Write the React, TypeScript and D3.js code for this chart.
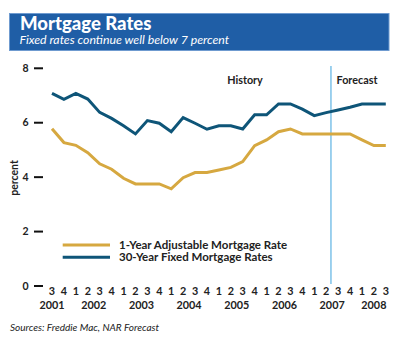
import React from "react";
import * as d3 from "d3";

const periods = [
  "2001-3", "2001-4",
  "2002-1", "2002-2", "2002-3", "2002-4",
  "2003-1", "2003-2", "2003-3", "2003-4",
  "2004-1", "2004-2", "2004-3", "2004-4",
  "2005-1", "2005-2", "2005-3", "2005-4",
  "2006-1", "2006-2", "2006-3", "2006-4",
  "2007-1", "2007-2", "2007-3", "2007-4",
  "2008-1", "2008-2", "2008-3",
];

const arm1Year = [
  5.78, 5.27, 5.17, 4.9, 4.49, 4.29, 3.96, 3.75, 3.75, 3.75,
  3.57, 3.98, 4.17, 4.17, 4.26, 4.36, 4.57, 5.16, 5.37, 5.67,
  5.77, 5.59, 5.59, 5.59, 5.59, 5.59, 5.37, 5.16, 5.16,
];

const fixed30Year = [
  7.08, 6.86, 7.08, 6.87, 6.38, 6.16, 5.89, 5.59, 6.08, 5.98,
  5.67, 6.19, 5.98, 5.76, 5.89, 5.89, 5.77, 6.29, 6.29, 6.69,
  6.69, 6.5, 6.26, 6.37, 6.47, 6.57, 6.69, 6.69, 6.69,
];

const yTicks = [0, 2, 4, 6, 8];
const forecastStart = 23.4; // position in quarter index (during 2007 Q2)

const seriesNames = ["1-Year Adjustable Mortgage Rate", "30-Year Fixed Mortgage Rates"];

const GOLD = "#d6a840";
const BLUE = "#0e5578";
const FONT = "Lato, 'Open Sans', sans-serif";

export default function App() {
  const W = 400, H = 345;
  const x = d3.scaleLinear().domain([0, periods.length - 1]).range([52, 385.8]);
  const y = d3.scaleLinear().domain([0, 8]).range([286, 68.3]);

  const line = d3
    .line<number>()
    .x((_, i) => x(i))
    .y((d) => y(d));

  const years = Array.from(new Set(periods.map((p) => p.split("-")[0])));
  const yearPos = years.map((yr, k) => {
    const idx = periods.map((p, i) => (p.startsWith(yr) ? i : -1)).filter((i) => i >= 0);
    const pos = k === 0 ? idx[0] : d3.mean(idx)!;
    return { yr, pos };
  });

  const legendY = [245, 257.3];
  const colors = [GOLD, BLUE];

  return (
    <svg
      width={W}
      height={H}
      viewBox={`0 0 ${W} ${H}`}
      style={{ position: "absolute", left: 0, top: 0, background: "#fff" }}
      fontFamily={FONT}
    >
      {/* title banner */}
      <rect x={9.5} y={13.5} width={379.5} height={37} fill="#1f5ea6" stroke="#6f9bd0" strokeWidth={1} />
      <text x={20} y={30} fill="#fff" fontSize={18.5} fontWeight={900}>
        Mortgage Rates
      </text>
      <text x={19.5} y={44.2} fill="#fff" fontSize={12.3} fontStyle="italic">
        Fixed rates continue well below 7 percent
      </text>

      {/* y axis ticks */}
      {yTicks.map((t) => (
        <g key={t}>
          <line x1={34} x2={43} y1={y(t)} y2={y(t)} stroke="#111" strokeWidth={2} />
          <text x={25.5} y={y(t) + 3.5} textAnchor="middle" fontSize={10.5} fontWeight={700} fill="#222">
            {t}
          </text>
        </g>
      ))}
      <text
        transform={`translate(17.5,178) rotate(-90)`}
        textAnchor="middle"
        fontSize={10.5}
        fontWeight={700}
        fill="#222"
      >
        percent
      </text>

      {/* forecast divider */}
      <line x1={x(forecastStart)} x2={x(forecastStart)} y1={66} y2={284} stroke="#5db3e3" strokeWidth={1.2} />
      <text x={245} y={83.5} textAnchor="middle" fontSize={10.8} fontWeight={700} fill="#222">
        History
      </text>
      <text x={357} y={83.5} textAnchor="middle" fontSize={10.8} fontWeight={700} fill="#222">
        Forecast
      </text>

      {/* lines */}
      <path d={line(arm1Year)!} fill="none" stroke={GOLD} strokeWidth={3} strokeLinejoin="miter" />
      <path d={line(fixed30Year)!} fill="none" stroke={BLUE} strokeWidth={3} strokeLinejoin="miter" />

      {/* legend */}
      {seriesNames.map((name, i) => (
        <g key={name}>
          <line x1={62.7} x2={110} y1={legendY[i]} y2={legendY[i]} stroke={colors[i]} strokeWidth={3} />
          <text x={119} y={legendY[i] + 4} fontSize={11.5} fontWeight={700} fill="#222">
            {name}
          </text>
        </g>
      ))}

      {/* x axis labels */}
      {periods.map((p, i) => (
        <text key={p} x={x(i)} y={295} textAnchor="middle" fontSize={10.8} fontWeight={700} fill="#222">
          {p.split("-")[1]}
        </text>
      ))}
      {yearPos.map(({ yr, pos }) => (
        <text key={yr} x={x(pos)} y={308.5} textAnchor="middle" fontSize={10.8} fontWeight={700} fill="#222">
          {yr}
        </text>
      ))}

      {/* source */}
      <text x={10} y={331} fontSize={10} fontStyle="italic" fill="#222">
        Sources: Freddie Mac, NAR Forecast
      </text>
    </svg>
  );
}
